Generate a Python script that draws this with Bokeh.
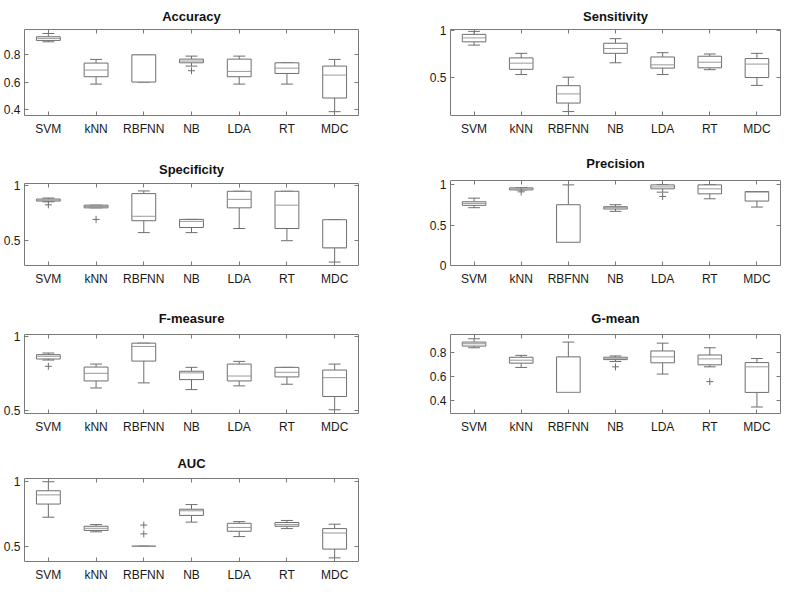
from bokeh.plotting import figure
from bokeh.models import (ColumnDataSource, FactorRange, Range1d, FixedTicker,
                          PrintfTickFormatter, CategoricalAxis, LinearAxis,
                          CustomJSTickFormatter)
from bokeh.layouts import row, column
from bokeh.transform import dodge
from bokeh.embed import file_html
from bokeh.resources import INLINE

CLASSIFIERS = ["SVM", "kNN", "RBFNN", "NB", "LDA", "RT", "MDC"]

# Accuracy
ACC_LOW = [0.895, 0.585, 0.600, 0.717, 0.585, 0.585, 0.383]
ACC_Q1 = [0.905, 0.639, 0.600, 0.741, 0.639, 0.663, 0.483]
ACC_MED = [0.920, 0.688, 0.800, 0.754, 0.678, 0.702, 0.651]
ACC_Q3 = [0.932, 0.739, 0.800, 0.768, 0.768, 0.741, 0.717]
ACC_HIGH = [0.956, 0.766, 0.800, 0.790, 0.790, 0.741, 0.766]
ACC_OUT_CAT = ["NB"]
ACC_OUT_VAL = [0.683]

# Sensitivity
SEN_LOW = [0.843, 0.528, 0.132, 0.654, 0.528, 0.580, 0.412]
SEN_Q1 = [0.878, 0.584, 0.223, 0.755, 0.597, 0.600, 0.496]
SEN_MED = [0.920, 0.650, 0.321, 0.807, 0.632, 0.660, 0.640]
SEN_Q3 = [0.958, 0.706, 0.409, 0.863, 0.716, 0.724, 0.699]
SEN_HIGH = [0.990, 0.755, 0.500, 0.912, 0.762, 0.748, 0.755]
SEN_OUT_CAT = []
SEN_OUT_VAL = []

# Specificity
SPE_LOW = [0.850, 0.796, 0.573, 0.573, 0.610, 0.500, 0.308]
SPE_Q1 = [0.857, 0.796, 0.680, 0.619, 0.796, 0.610, 0.436]
SPE_MED = [0.865, 0.808, 0.720, 0.674, 0.872, 0.820, 0.436]
SPE_Q3 = [0.875, 0.820, 0.924, 0.692, 0.945, 0.945, 0.689]
SPE_HIGH = [0.884, 0.820, 0.948, 0.692, 0.945, 0.945, 0.689]
SPE_OUT_CAT = ["SVM", "kNN"]
SPE_OUT_VAL = [0.823, 0.692]

# Precision
PRE_LOW = [0.714, 0.934, 0.286, 0.669, 0.906, 0.824, 0.722]
PRE_Q1 = [0.743, 0.934, 0.286, 0.698, 0.947, 0.885, 0.796]
PRE_MED = [0.767, 0.947, 0.286, 0.714, 0.971, 0.947, 0.906]
PRE_Q3 = [0.787, 0.959, 0.751, 0.726, 0.996, 0.996, 0.914]
PRE_HIGH = [0.832, 0.962, 0.996, 0.751, 1.000, 1.000, 0.914]
PRE_OUT_CAT = ["kNN", "LDA"]
PRE_OUT_VAL = [0.910, 0.853]

# F-measure
FME_LOW = [0.840, 0.653, 0.687, 0.642, 0.667, 0.678, 0.507]
FME_Q1 = [0.847, 0.700, 0.833, 0.709, 0.700, 0.727, 0.596]
FME_MED = [0.865, 0.751, 0.931, 0.754, 0.733, 0.758, 0.722]
FME_Q3 = [0.876, 0.793, 0.953, 0.765, 0.813, 0.791, 0.773]
FME_HIGH = [0.887, 0.813, 0.953, 0.791, 0.831, 0.791, 0.813]
FME_OUT_CAT = ["SVM"]
FME_OUT_VAL = [0.798]

# G-mean
GME_LOW = [0.844, 0.678, 0.467, 0.728, 0.622, 0.683, 0.344]
GME_Q1 = [0.858, 0.714, 0.467, 0.744, 0.717, 0.700, 0.467]
GME_MED = [0.878, 0.739, 0.467, 0.756, 0.767, 0.750, 0.683]
GME_Q3 = [0.892, 0.764, 0.767, 0.764, 0.817, 0.783, 0.719]
GME_HIGH = [0.920, 0.780, 0.892, 0.775, 0.883, 0.844, 0.753]
GME_OUT_CAT = ["NB", "RT"]
GME_OUT_VAL = [0.683, 0.558]

# AUC
AUC_LOW = [0.725, 0.612, 0.500, 0.687, 0.575, 0.637, 0.410]
AUC_Q1 = [0.827, 0.623, 0.500, 0.739, 0.616, 0.655, 0.478]
AUC_MED = [0.898, 0.639, 0.500, 0.775, 0.646, 0.668, 0.603]
AUC_Q3 = [0.930, 0.655, 0.500, 0.787, 0.678, 0.684, 0.637]
AUC_HIGH = [1.000, 0.668, 0.500, 0.823, 0.691, 0.700, 0.671]
AUC_OUT_CAT = ["RBFNN", "RBFNN"]
AUC_OUT_VAL = [0.664, 0.596]

FONT = "Liberation Sans"
BOX_COLOR = "#6e6e6e"
MED_COLOR = "#9a9a9a"
FRAME_COLOR = "#7a7a7a"


def panel(title, low, q1, med, q3, high, out_cat, out_val, yr, yticks,
          width, height, bl, br, bt, bb, standoff):
    p = figure(width=width, height=height, x_range=FactorRange(*CLASSIFIERS),
               y_range=Range1d(*yr), output_backend="svg", toolbar_location=None,
               min_border_left=bl, min_border_right=br, min_border_top=bt,
               min_border_bottom=bb)
    p.title.text = title
    p.title.text_font = FONT
    p.title.text_font_size = "13px"
    p.title.text_font_style = "bold"
    p.title.text_color = "#111111"
    p.title.align = "center"
    p.title.standoff = standoff
    p.title.offset = -8
    p.outline_line_color = FRAME_COLOR
    p.outline_line_width = 1
    p.xgrid.visible = False
    p.ygrid.visible = False

    src = ColumnDataSource(dict(cat=CLASSIFIERS, low=low, q1=q1, med=med, q3=q3, high=high))
    # whiskers
    p.segment(x0="cat", y0="q3", x1="cat", y1="high", source=src, line_color=BOX_COLOR, line_width=1)
    p.segment(x0="cat", y0="q1", x1="cat", y1="low", source=src, line_color=BOX_COLOR, line_width=1)
    # caps
    p.segment(x0=dodge("cat", -0.125, range=p.x_range), y0="high",
              x1=dodge("cat", 0.125, range=p.x_range), y1="high",
              source=src, line_color=BOX_COLOR, line_width=1)
    p.segment(x0=dodge("cat", -0.125, range=p.x_range), y0="low",
              x1=dodge("cat", 0.125, range=p.x_range), y1="low",
              source=src, line_color=BOX_COLOR, line_width=1)
    # boxes
    p.vbar(x="cat", top="q3", bottom="q1", width=0.5, source=src,
           fill_color="white", line_color=BOX_COLOR, line_width=1)
    # medians
    p.segment(x0=dodge("cat", -0.25, range=p.x_range), y0="med",
              x1=dodge("cat", 0.25, range=p.x_range), y1="med",
              source=src, line_color=MED_COLOR, line_width=1)
    if out_cat:
        osrc = ColumnDataSource(dict(cat=out_cat, val=out_val))
        p.scatter(x="cat", y="val", source=osrc, marker="cross", size=7,
                  line_color=BOX_COLOR, line_width=1)

    p.yaxis.ticker = FixedTicker(ticks=yticks)
    p.yaxis.formatter = PrintfTickFormatter(format="%g")
    for ax in (p.xaxis[0], p.yaxis[0]):
        ax.axis_line_color = None
        ax.major_tick_in = 4
        ax.major_tick_out = 0
        ax.minor_tick_in = 0
        ax.minor_tick_out = 0
        ax.major_tick_line_color = FRAME_COLOR
        ax.major_label_text_font = FONT
        ax.major_label_text_font_size = "12px"
        ax.major_label_text_color = "#1a1a1a"
    p.xaxis.major_label_standoff = 6
    p.yaxis.major_label_standoff = 4

    top_ax = CategoricalAxis(axis_line_color=None, major_tick_in=4, major_tick_out=0,
                             major_tick_line_color=FRAME_COLOR,
                             formatter=CustomJSTickFormatter(code="return ''"),
                             major_label_standoff=0)
    right_ax = LinearAxis(ticker=FixedTicker(ticks=yticks), axis_line_color=None,
                          major_tick_in=4, major_tick_out=0, minor_tick_in=0, minor_tick_out=0,
                          major_tick_line_color=FRAME_COLOR,
                          major_label_overrides={t: "" for t in yticks},
                          major_label_standoff=0)
    p.add_layout(top_ax, "above")
    p.add_layout(right_ax, "right")
    return p


LW = 392
RW = 390

p_acc = panel("Accuracy", ACC_LOW, ACC_Q1, ACC_MED, ACC_Q3, ACC_HIGH, ACC_OUT_CAT, ACC_OUT_VAL,
              (0.355, 0.985), [0.4, 0.6, 0.8], LW, 138, 23, 34, 29, 23, 12)
p_spe = panel("Specificity", SPE_LOW, SPE_Q1, SPE_MED, SPE_Q3, SPE_HIGH, SPE_OUT_CAT, SPE_OUT_VAL,
              (0.277, 1.015), [0.5, 1.0], LW, 151, 23, 34, 45, 24, 14)
p_fme = panel("F-measure", FME_LOW, FME_Q1, FME_MED, FME_Q3, FME_HIGH, FME_OUT_CAT, FME_OUT_VAL,
              (0.482, 1.011), [0.5, 1.0], LW, 147, 23, 34, 45, 23, 18)
p_auc = panel("AUC", AUC_LOW, AUC_Q1, AUC_MED, AUC_Q3, AUC_HIGH, AUC_OUT_CAT, AUC_OUT_VAL,
              (0.382, 1.025), [0.5, 1.0], LW, 148, 23, 34, 42, 18, 16)

p_sen = panel("Sensitivity", SEN_LOW, SEN_Q1, SEN_MED, SEN_Q3, SEN_HIGH, SEN_OUT_CAT, SEN_OUT_VAL,
              (0.09, 1.01), [0.5, 1.0], RW, 138, 58, 2, 28, 23, 12)
p_pre = panel("Precision", PRE_LOW, PRE_Q1, PRE_MED, PRE_Q3, PRE_HIGH, PRE_OUT_CAT, PRE_OUT_VAL,
              (0.0, 1.05), [0.0, 0.5, 1.0], RW, 151, 58, 2, 42, 24, 20)
p_gme = panel("G-mean", GME_LOW, GME_Q1, GME_MED, GME_Q3, GME_HIGH, GME_OUT_CAT, GME_OUT_VAL,
              (0.289, 0.956), [0.4, 0.6, 0.8], RW, 147, 58, 2, 45, 23, 18)

layout = row(column(p_acc, p_spe, p_fme, p_auc), column(p_sen, p_pre, p_gme))

open("out.html", "w").write(file_html(layout, INLINE))
